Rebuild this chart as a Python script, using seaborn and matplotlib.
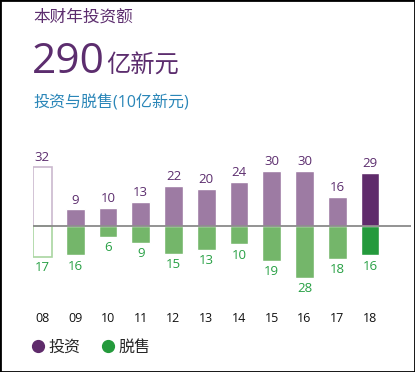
"""Investment vs divestment bar chart (Temasek-style card)."""

import matplotlib
matplotlib.use("Agg")
import matplotlib.pyplot as plt
import numpy as np
import pandas as pd
import seaborn as sns
from matplotlib.lines import Line2D
from matplotlib.patches import Rectangle

years = ["08", "09", "10", "11", "12", "13", "14", "15", "16", "17", "18"]
investment = [32, 9, 10, 13, 22, 20, 24, 30, 30, 16, 29]
divestment = [17, 16, 6, 9, 15, 13, 10, 19, 28, 18, 16]

title = "本财年投资额"
headline_num = "290"
headline_unit = "亿新元"
subtitle = "投资与脱售(10亿新元)"
legend_labels = ["投资", "脱售"]

PURPLE = "#5c2d6e"
PURPLE_LIGHT = "#9d7ba3"
PURPLE_DARK = "#5f2b6b"
GREEN = "#27a044"
GREEN_LIGHT = "#74b66a"
GREEN_DARK = "#249a3c"
BLUE = "#2a86b8"

sns.set_style("white")
plt.rcParams["font.family"] = ["Open Sans", "Noto Sans CJK SC", "DejaVu Sans"]

df = pd.DataFrame({"year": years, "inv": investment, "div": [-v for v in divestment]})

fig = plt.figure(figsize=(4.15, 3.72), dpi=100)
ax = fig.add_axes([33 / 415, 72 / 372, 378 / 415, 170 / 372])

inv_colors = [PURPLE_LIGHT] * (len(years) - 1) + [PURPLE_DARK]
div_colors = [GREEN_LIGHT] * (len(years) - 1) + [GREEN_DARK]

sns.barplot(data=df, x="year", y="inv", hue="year", palette=inv_colors,
            width=0.57, legend=False, ax=ax, saturation=1)
sns.barplot(data=df, x="year", y="div", hue="year", palette=div_colors,
            width=0.57, legend=False, ax=ax, saturation=1)

# first year drawn as hollow outline
inv_first = ax.containers[0][0]
inv_first.set_facecolor("white")
inv_first.set_edgecolor("#cbb9ce")
inv_first.set_linewidth(1.2)
n = len(years)
div_first = ax.containers[n][0]
div_first.set_facecolor("white")
div_first.set_edgecolor("#a9d6a1")
div_first.set_linewidth(1.2)

for i, cont in enumerate(ax.containers):
    if i < n:
        ax.bar_label(cont, labels=[str(investment[i])], padding=2,
                     fontsize=9.5, color=PURPLE)
    else:
        ax.bar_label(cont, labels=[str(divestment[i - n])], padding=3,
                     fontsize=9.5, color=GREEN)

ax.axhline(0, color="#8a8a8a", lw=1.3, zorder=4)
ax.set_xlim(-0.29, 11.25)
ax.set_ylim(-40.2, 52.2)
ax.set_xlabel("")
ax.set_ylabel("")
ax.set_yticks([])
ax.tick_params(axis="x", length=0, pad=9, labelsize=9, labelcolor="#111111")
sns.despine(ax=ax, left=True, bottom=True)

fig.text(33 / 415, 1 - 18 / 372, title, fontsize=12, color=PURPLE, va="center")
t = fig.text(32 / 415, 1 - 73 / 372, headline_num, fontsize=30.5, color=PURPLE,
             va="baseline")
fig.canvas.draw()
bb = t.get_window_extent()
fig.text(bb.x1 / 415 + 0.002, 1 - 73 / 372, headline_unit, fontsize=17.5,
         color=PURPLE, va="baseline")
fig.text(33 / 415, 1 - 103 / 372, subtitle, fontsize=11.5, color=BLUE, va="center")

handles = [Line2D([], [], marker="o", ls="", color=PURPLE_DARK, markersize=8.5),
           Line2D([], [], marker="o", ls="", color=GREEN_DARK, markersize=8.5)]
fig.legend(handles, legend_labels, loc="center left", ncol=2, frameon=False,
           bbox_to_anchor=(22 / 415, 1 - 348 / 372), fontsize=11.5,
           handletextpad=0.05, columnspacing=1.15, handlelength=1.2,
           borderaxespad=0)

fig.patches.append(Rectangle((0, 0), 1, 1, transform=fig.transFigure,
                             fill=False, edgecolor="black", lw=2))

fig.savefig("out.png", dpi=100)
